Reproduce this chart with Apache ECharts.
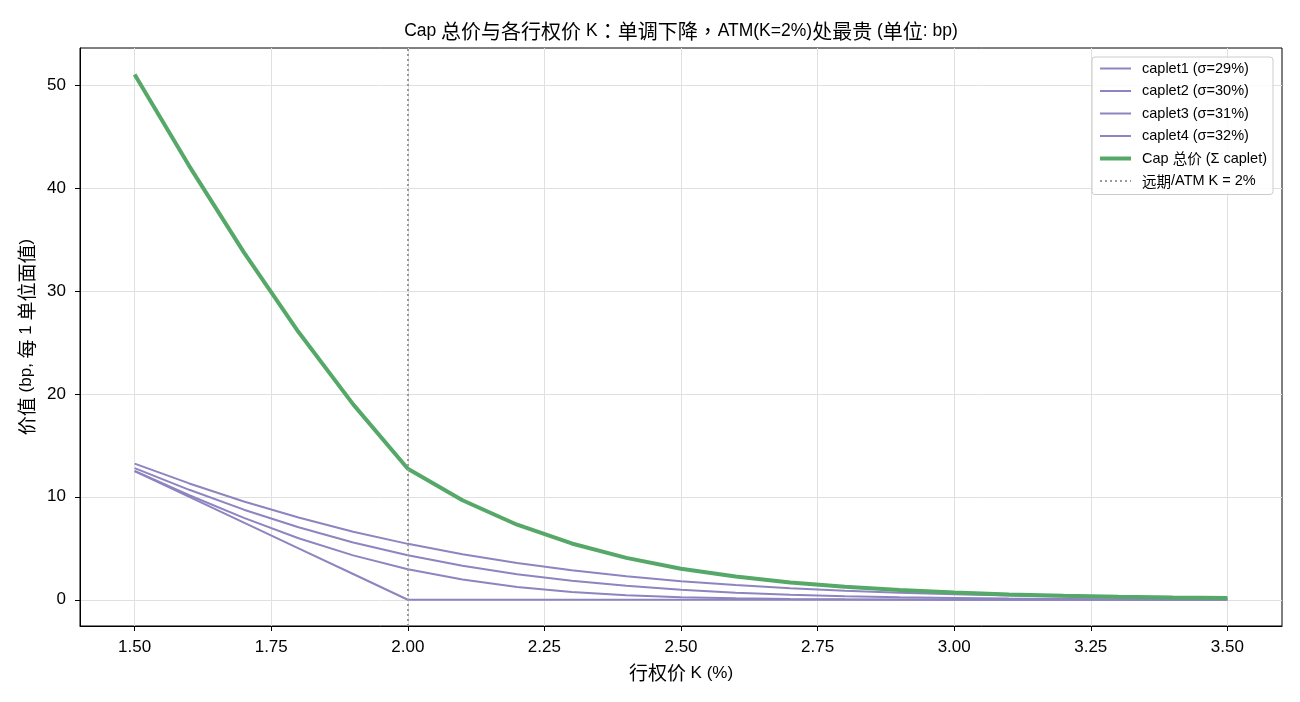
<!DOCTYPE html>
<html>
<head>
<meta charset="utf-8">
<script src="https://cdn.jsdelivr.net/npm/echarts@6/dist/echarts.min.js"></script>
<style>
  html, body { margin: 0; padding: 0; background: #fff; }
  #chart { width: 1300px; height: 702px; }
</style>
</head>
<body>
<div id="chart"></div>
<script>
// strike grid (%), step 0.1
const strikes = [1.5, 1.6, 1.7, 1.8, 1.9, 2.0, 2.1, 2.2, 2.3, 2.4, 2.5, 2.6, 2.7, 2.8, 2.9, 3.0, 3.1, 3.2, 3.3, 3.4, 3.5];

// caplet values in bp
const caplet1 = [12.5, 10.0, 7.5, 5.0, 2.5, 0, 0, 0, 0, 0, 0, 0, 0, 0, 0, 0, 0, 0, 0, 0, 0];
const caplet2 = [12.51, 10.15, 7.95, 5.98, 4.31, 2.97, 1.96, 1.24, 0.76, 0.44, 0.25, 0.14, 0.07, 0.04, 0.02, 0.01, 0, 0, 0, 0, 0];
const caplet3 = [12.79, 10.68, 8.75, 7.04, 5.56, 4.32, 3.30, 2.48, 1.84, 1.35, 0.97, 0.69, 0.49, 0.35, 0.24, 0.17, 0.11, 0.08, 0.05, 0.03, 0.02];
const caplet4 = [13.22, 11.30, 9.55, 7.99, 6.61, 5.43, 4.41, 3.57, 2.87, 2.28, 1.80, 1.43, 1.12, 0.88, 0.68, 0.53, 0.41, 0.32, 0.24, 0.19, 0.14];
const capTotal = [51.02, 42.13, 33.75, 26.01, 18.98, 12.72, 9.67, 7.29, 5.47, 4.07, 3.02, 2.26, 1.68, 1.27, 0.94, 0.71, 0.52, 0.40, 0.29, 0.22, 0.16];

const capletNames = ['caplet1 (σ=29%)', 'caplet2 (σ=30%)', 'caplet3 (σ=31%)', 'caplet4 (σ=32%)'];
const capName = 'Cap 总价 (Σ caplet)';
const atmName = '远期/ATM K = 2%';
const atmStrike = 2.0;

const xTicks = [1.5, 1.75, 2.0, 2.25, 2.5, 2.75, 3.0, 3.25, 3.5];
const yTicks = [0, 10, 20, 30, 40, 50];

const LATIN = '"Liberation Sans", Arial, sans-serif';
const CJK = '"Noto Sans CJK TC", "Noto Sans CJK SC", sans-serif';
const PURPLE = '#8d84c0';
const GREEN = '#55a868';

// split text in latin / cjk runs so each gets its own font
const CJK_RE = /([\u3000-\u303f\u4e00-\u9fff\uff00-\uffef]+)|([^\u3000-\u303f\u4e00-\u9fff\uff00-\uffef]+)/g;
function richRuns(str) {
  return str.replace(CJK_RE, (m, cj, lat) => cj ? `{c|${cj}}` : `{l|${lat}}`);
}
function richStyle(latinSize, cjkSize, lineHeight) {
  return {
    l: { fontFamily: LATIN, fontSize: latinSize, color: '#000', lineHeight: lineHeight },
    c: { fontFamily: CJK, fontSize: cjkSize, color: '#000', lineHeight: lineHeight },
  };
}

const zip = (vals) => strikes.map((k, i) => [k, vals[i]]);

const series = [caplet1, caplet2, caplet3, caplet4].map((vals, i) => ({
  name: capletNames[i],
  type: 'line',
  data: zip(vals),
  symbol: 'none',
  lineStyle: { color: PURPLE, width: 2 },
  itemStyle: { color: PURPLE },
  z: 2,
}));

series.push({
  name: capName,
  type: 'line',
  data: zip(capTotal),
  symbol: 'none',
  lineStyle: { color: GREEN, width: 4 },
  itemStyle: { color: GREEN },
  z: 3,
});

series.push({
  name: atmName,
  type: 'line',
  data: [],
  symbol: 'none',
  lineStyle: { color: '#999', width: 2, type: [2, 3] },
  itemStyle: { color: '#999' },
  markLine: {
    silent: true,
    symbol: 'none',
    label: { show: false },
    lineStyle: { color: '#999', width: 2, type: [2, 3] },
    data: [{ xAxis: atmStrike }],
  },
  z: 1,
});

const chart = echarts.init(document.getElementById('chart'), null, { renderer: 'canvas' });
chart.setOption({
  animation: false,
  textStyle: { fontFamily: LATIN },
  title: {
    text: richRuns('Cap 总价与各行权价 K：单调下降，ATM(K=2%)处最贵 (单位: bp)'),
    left: 681,
    textAlign: 'center',
    top: 19,
    padding: 0,
    textStyle: { fontWeight: 'normal', rich: richStyle(17.5, 20, 24) },
  },
  grid: {
    left: 80,
    right: 18,
    top: 48,
    bottom: 76,
    show: true,
    borderColor: '#000',
    borderWidth: 1,
    backgroundColor: 'transparent',
  },
  legend: {
    orient: 'vertical',
    right: 27,
    top: 57,
    itemWidth: 31,
    itemHeight: 10,
    itemGap: 7.5,
    padding: [4, 6, 6, 6],
    backgroundColor: 'rgba(255,255,255,0.85)',
    borderColor: '#ccc',
    borderWidth: 1,
    borderRadius: 3,
    itemStyle: { opacity: 0 },
    lineStyle: { width: 'inherit' },
    formatter: (name) => richRuns(name),
    textStyle: {
      rich: {
        l: { fontFamily: LATIN, fontSize: 14.5, color: '#000', lineHeight: 14 },
        c: { fontFamily: CJK, fontSize: 14.5, color: '#000', lineHeight: 14 },
      },
      padding: [0, 0, 0, 6],
    },
    data: capletNames.concat([capName, atmName]),
  },
  xAxis: {
    type: 'value',
    min: 1.4,
    max: 3.6,
    name: richRuns('行权价 K (%)'),
    nameLocation: 'middle',
    nameGap: 36,
    nameTextStyle: { rich: richStyle(17, 19, 22) },
    axisLine: { show: true, onZero: false, lineStyle: { color: '#000', width: 1 } },
    axisTick: { show: true, length: 5, lineStyle: { color: '#000' }, customValues: xTicks },
    axisLabel: {
      color: '#000', fontSize: 17, fontFamily: LATIN, margin: 13,
      customValues: xTicks,
      formatter: (v) => v.toFixed(2),
    },
    splitLine: { show: true, lineStyle: { color: '#e0e0e0', width: 1 } },
  },
  yAxis: {
    type: 'value',
    min: -2.55,
    max: 53.6,
    name: richRuns('价值 (bp, 每 1 单位面值)'),
    nameLocation: 'middle',
    nameGap: 37,
    nameRotate: 90,
    nameTextStyle: { rich: richStyle(17, 19, 22) },
    axisLine: { show: true, onZero: false, lineStyle: { color: '#000', width: 1 } },
    axisTick: { show: true, length: 5, lineStyle: { color: '#000' }, customValues: yTicks },
    axisLabel: { color: '#000', fontSize: 17, fontFamily: LATIN, margin: 14, customValues: yTicks },
    splitLine: { show: true, lineStyle: { color: '#e0e0e0', width: 1 } },
  },
  series: series,
});
</script>
</body>
</html>
